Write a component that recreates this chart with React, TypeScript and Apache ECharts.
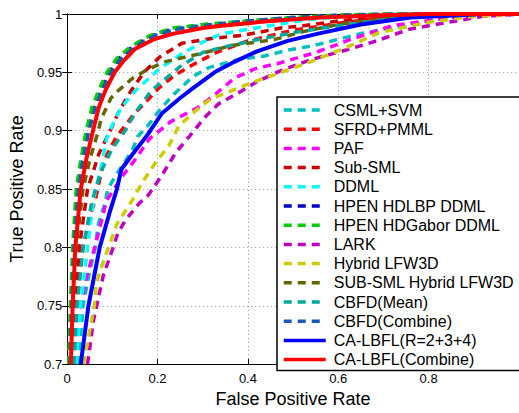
import React, { useEffect, useRef } from "react";
import * as echarts from "echarts";

const seriesNames = [
  "CSML+SVM",
  "SFRD+PMML",
  "PAF",
  "Sub-SML",
  "DDML",
  "HPEN HDLBP DDML",
  "HPEN HDGabor DDML",
  "LARK",
  "Hybrid LFW3D",
  "SUB-SML Hybrid LFW3D",
  "CBFD(Mean)",
  "CBFD(Combine)",
  "CA-LBFL(R=2+3+4)",
  "CA-LBFL(Combine)",
];

const colors = [
  "#00BFBF", "#FF0000", "#FF00FF", "#CC0000", "#00FFFF", "#0000CC", "#00CC00",
  "#BF00BF", "#CCCC00", "#666600", "#00A99D", "#1A5AB4", "#0000FF", "#FF0000",
];

const solidFlags = [false, false, false, false, false, false, false, false, false, false, false, false, true, true];

const xTicks = [0, 0.2, 0.4, 0.6, 0.8, 1];
const yTicks = [0.7, 0.75, 0.8, 0.85, 0.9, 0.95, 1];

const csmlSvm = [[0.025,0.70],[0.035,0.75],[0.05,0.78],[0.062,0.80],[0.069,0.82],[0.076,0.829],[0.083,0.837],[0.09,0.85],[0.108,0.862],[0.127,0.873],[0.145,0.884],[0.156,0.895],[0.18,0.905],[0.205,0.918],[0.233,0.93],[0.277,0.946],[0.313,0.954],[0.378,0.961],[0.436,0.964],[0.488,0.969],[0.546,0.973],[0.648,0.983],[0.757,0.991],[0.85,0.997],[0.95,1],[1,1]];
const sfrdPmml = [[0.012,0.70],[0.02,0.75],[0.035,0.80],[0.054,0.831],[0.062,0.84],[0.08,0.873],[0.098,0.887],[0.109,0.895],[0.13,0.905],[0.145,0.913],[0.175,0.925],[0.204,0.937],[0.24,0.948],[0.28,0.957],[0.33,0.967],[0.4,0.977],[0.5,0.986],[0.6,0.992],[0.7,0.997],[0.8,0.999],[0.9,1],[1,1]];
const paf = [[0.02,0.70],[0.025,0.74],[0.04,0.77],[0.069,0.812],[0.087,0.84],[0.12,0.86],[0.15,0.875],[0.182,0.893],[0.23,0.908],[0.29,0.92],[0.327,0.931],[0.37,0.945],[0.415,0.953],[0.47,0.958],[0.55,0.967],[0.626,0.978],[0.72,0.99],[0.85,0.997],[0.96,0.999],[1,1]];
const subSml = [[0.012,0.70],[0.018,0.75],[0.027,0.80],[0.045,0.85],[0.07,0.88],[0.095,0.90],[0.115,0.917],[0.141,0.934],[0.17,0.95],[0.204,0.963],[0.254,0.975],[0.32,0.979],[0.393,0.982],[0.473,0.988],[0.523,0.99],[0.6,0.994],[0.7,0.998],[0.8,1],[1,1]];
const ddml = [[0.02,0.70],[0.029,0.748],[0.036,0.77],[0.045,0.80],[0.054,0.829],[0.062,0.848],[0.076,0.87],[0.087,0.893],[0.1,0.905],[0.116,0.917],[0.14,0.93],[0.167,0.94],[0.204,0.953],[0.254,0.966],[0.3,0.976],[0.342,0.983],[0.386,0.986],[0.48,0.992],[0.55,0.996],[0.65,0.999],[0.75,1],[1,1]];
const hdlbp = [[0.005,0.70],[0.009,0.75],[0.014,0.80],[0.023,0.85],[0.033,0.875],[0.046,0.90],[0.06,0.92],[0.075,0.935],[0.093,0.95],[0.115,0.962],[0.145,0.972],[0.185,0.981],[0.233,0.987],[0.3,0.99],[0.4,0.994],[0.5,0.997],[0.6,0.999],[0.72,1],[1,1]];
const hdgabor = [[0.003,0.70],[0.007,0.75],[0.012,0.80],[0.02,0.85],[0.03,0.875],[0.042,0.90],[0.055,0.92],[0.07,0.935],[0.088,0.95],[0.11,0.962],[0.14,0.972],[0.18,0.981],[0.233,0.988],[0.3,0.991],[0.4,0.994],[0.5,0.997],[0.6,0.999],[0.7,1],[1,1]];
const lark = [[0.045,0.70],[0.058,0.737],[0.072,0.762],[0.08,0.776],[0.1,0.798],[0.112,0.812],[0.13,0.824],[0.16,0.838],[0.18,0.845],[0.21,0.862],[0.24,0.881],[0.27,0.895],[0.306,0.912],[0.335,0.923],[0.386,0.934],[0.42,0.942],[0.47,0.951],[0.54,0.961],[0.626,0.97],[0.685,0.977],[0.757,0.987],[0.83,0.992],[0.92,0.998],[1,1]];
const hybridLfw3d = [[0.036,0.70],[0.05,0.729],[0.06,0.75],[0.064,0.768],[0.072,0.779],[0.095,0.804],[0.11,0.82],[0.14,0.838],[0.167,0.856],[0.196,0.873],[0.225,0.887],[0.247,0.904],[0.284,0.917],[0.313,0.926],[0.342,0.931],[0.407,0.941],[0.466,0.949],[0.531,0.958],[0.61,0.97],[0.69,0.984],[0.8,0.993],[0.9,0.998],[1,1]];
const subSmlHybrid = [[0.007,0.70],[0.012,0.75],[0.02,0.80],[0.035,0.85],[0.05,0.875],[0.069,0.90],[0.075,0.91],[0.097,0.928],[0.112,0.934],[0.145,0.945],[0.171,0.951],[0.215,0.959],[0.272,0.964],[0.305,0.967],[0.364,0.973],[0.458,0.978],[0.523,0.985],[0.6,0.991],[0.7,0.996],[0.8,0.999],[0.9,1],[1,1]];
const cbfdMean = [[0.015,0.70],[0.022,0.75],[0.035,0.80],[0.055,0.84],[0.075,0.865],[0.1,0.885],[0.128,0.90],[0.15,0.915],[0.167,0.924],[0.185,0.934],[0.21,0.942],[0.25,0.955],[0.3,0.967],[0.35,0.972],[0.42,0.978],[0.5,0.984],[0.6,0.99],[0.7,0.995],[0.8,0.999],[0.9,1],[1,1]];
const cbfdCombine = [[0.006,0.70],[0.01,0.75],[0.015,0.80],[0.025,0.85],[0.035,0.875],[0.048,0.90],[0.062,0.92],[0.078,0.935],[0.097,0.95],[0.12,0.962],[0.15,0.972],[0.19,0.981],[0.24,0.987],[0.3,0.99],[0.4,0.994],[0.5,0.997],[0.62,0.999],[0.75,1],[1,1]];
const caLbflR234 = [[0.03,0.70],[0.047,0.75],[0.072,0.80],[0.094,0.83],[0.11,0.85],[0.12,0.867],[0.145,0.88],[0.175,0.895],[0.21,0.915],[0.25,0.928],[0.277,0.936],[0.33,0.951],[0.37,0.959],[0.42,0.968],[0.488,0.977],[0.553,0.983],[0.65,0.991],[0.76,0.997],[0.87,0.999],[0.92,1],[1,1]];
const caLbflCombine = [[0.008,0.70],[0.012,0.75],[0.018,0.80],[0.03,0.85],[0.042,0.875],[0.057,0.90],[0.07,0.92],[0.085,0.935],[0.105,0.95],[0.125,0.96],[0.15,0.97],[0.19,0.978],[0.233,0.983],[0.3,0.988],[0.342,0.99],[0.45,0.994],[0.56,0.997],[0.7,0.999],[0.8,1],[1,1]];

const seriesData = [
  csmlSvm, sfrdPmml, paf, subSml, ddml, hdlbp, hdgabor, lark,
  hybridLfw3d, subSmlHybrid, cbfdMean, cbfdCombine, caLbflR234, caLbflCombine,
];

const FONT = "Liberation Sans, Arial, Helvetica, sans-serif";

export default function App() {
  const ref = useRef<HTMLDivElement>(null);
  useEffect(() => {
    if (!ref.current) return;
    const chart = echarts.init(ref.current, undefined, { renderer: "svg" });
    const gridLine = { show: true, lineStyle: { color: "#9a9a9a", type: [1, 3] as any, width: 1 } };
    const fmt = (v: number) => String(Math.round(v * 100) / 100);
    const option: any = {
      animation: false,
      backgroundColor: "#ffffff",
      grid: { left: 63.5, top: 14, right: 0.5, bottom: 37.5, containLabel: false },
      xAxis: [
        {
          type: "value",
          min: xTicks[0],
          max: xTicks[xTicks.length - 1],
          interval: 0.2,
          name: "False Positive Rate",
          nameLocation: "middle",
          nameGap: 21,
          nameTextStyle: { fontFamily: FONT, fontSize: 18, color: "#000" },
          axisLine: { show: true, lineStyle: { color: "#000", width: 1 } },
          axisTick: { show: true, inside: true, length: 5, lineStyle: { color: "#000" } },
          axisLabel: {
            fontFamily: FONT, fontSize: 13, color: "#000", margin: 8,
            formatter: (v: number) => (v >= 0.999 ? "" : fmt(v)),
          },
          splitLine: gridLine,
        },
        {
          type: "value",
          position: "top",
          min: xTicks[0],
          max: xTicks[xTicks.length - 1],
          interval: 0.2,
          axisLine: { show: true, lineStyle: { color: "#000", width: 1 } },
          axisTick: { show: true, inside: true, length: 5, lineStyle: { color: "#000" } },
          axisLabel: { show: false },
          splitLine: { show: false },
        },
      ],
      yAxis: [
        {
          type: "value",
          min: yTicks[0],
          max: yTicks[yTicks.length - 1],
          interval: 0.05,
          name: "True Positive Rate",
          nameLocation: "middle",
          nameGap: 37,
          nameTextStyle: { fontFamily: FONT, fontSize: 18, color: "#000" },
          axisLine: { show: true, lineStyle: { color: "#000", width: 1 } },
          axisTick: { show: true, inside: true, length: 5, lineStyle: { color: "#000" } },
          axisLabel: { fontFamily: FONT, fontSize: 13, color: "#000", margin: 5, formatter: fmt },
          splitLine: gridLine,
        },
        {
          type: "value",
          position: "right",
          min: yTicks[0],
          max: yTicks[yTicks.length - 1],
          interval: 0.05,
          axisLine: { show: true, lineStyle: { color: "#000", width: 1 } },
          axisTick: { show: true, inside: true, length: 5, lineStyle: { color: "#000" } },
          axisLabel: { show: false },
          splitLine: { show: false },
        },
      ],
      legend: {
        orient: "vertical",
        left: 277,
        top: 97,
        width: 238,
        padding: [5, 8, 3, 5],
        itemWidth: 42,
        itemHeight: 14,
        itemGap: 3.2,
        borderColor: "#000",
        borderWidth: 1.5,
        backgroundColor: "#fff",
        itemStyle: { color: "transparent", opacity: 0, borderWidth: 0 },
        lineStyle: { width: 3.5 },
        textStyle: { fontFamily: FONT, fontSize: 16, color: "#000", padding: [0, 0, 0, 3] },
        data: seriesNames,
      },
      series: seriesNames.map((name, i) => ({
        name,
        type: "line",
        data: seriesData[i],
        showSymbol: false,
        symbol: "none",
        xAxisIndex: 0,
        yAxisIndex: 0,
        color: colors[i],
        lineStyle: {
          color: colors[i],
          width: solidFlags[i] ? 4 : 3.5,
          type: solidFlags[i] ? "solid" : [8, 6],
        },
        z: 2 + i,
      })),
    };
    chart.setOption(option);
    return () => chart.dispose();
  }, []);
  return (
    <div
      ref={ref}
      style={{ position: "fixed", left: 0, top: 0, width: 522, height: 413, background: "#fff" }}
    />
  );
}
